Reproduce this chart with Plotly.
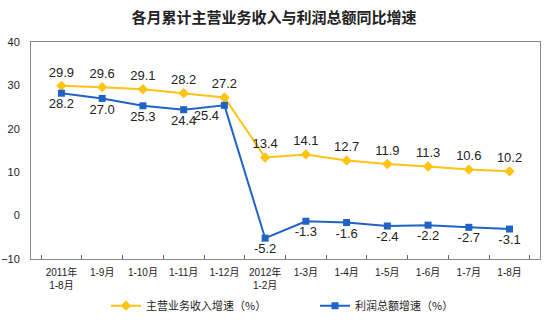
import plotly.graph_objects as go

categories = ["2011年<br>1-8月", "1-9月", "1-10月", "1-11月", "1-12月", "2012年<br>1-2月",
              "1-3月", "1-4月", "1-5月", "1-6月", "1-7月", "1-8月"]
revenue_growth = [29.9, 29.6, 29.1, 28.2, 27.2, 13.4, 14.1, 12.7, 11.9, 11.3, 10.6, 10.2]
profit_growth = [28.2, 27.0, 25.3, 24.4, 25.4, -5.2, -1.3, -1.6, -2.4, -2.2, -2.7, -3.1]
y_ticks = [-10, 0, 10, 20, 30, 40]

YELLOW = "#FFC312"
BLUE = "#1F63C6"
FONT = "Arial, 'Liberation Sans', 'Noto Sans CJK SC', sans-serif"

profit_pos = ["bottom center"] * len(profit_growth)
profit_pos[4] = "bottom left"

fig = go.Figure()
fig.add_trace(go.Scatter(
    x=categories, y=revenue_growth, name="主营业务收入增速（%）",
    mode="lines+markers+text",
    line=dict(color=YELLOW, width=2),
    marker=dict(symbol="diamond", size=8, color=YELLOW),
    text=[f"{v:.1f}" for v in revenue_growth], textposition="top center",
    textfont=dict(size=13, color="#222", family=FONT),
))
fig.add_trace(go.Scatter(
    x=categories, y=profit_growth, name="利润总额增速（%）",
    mode="lines+markers+text",
    line=dict(color=BLUE, width=2),
    marker=dict(symbol="square", size=7, color=BLUE),
    text=[f"{v:.1f}" for v in profit_growth], textposition=profit_pos,
    textfont=dict(size=13, color="#222", family=FONT),
))

fig.update_layout(
    width=548, height=323,
    margin=dict(l=31, r=8, t=42, b=64, autoexpand=False),
    paper_bgcolor="white", plot_bgcolor="white",
    font=dict(family=FONT, color="#222"),
    title=dict(text="<b>各月累计主营业务收入与利润总额同比增速</b>",
               x=0.5, xanchor="center", y=0.945, yanchor="middle",
               font=dict(size=15, family="'Noto Sans CJK SC', sans-serif", color="#222")),
    showlegend=True,
    legend=dict(orientation="h", x=(106 - 31) / 509, xanchor="left", y=-0.215, yanchor="middle",
                font=dict(size=11, family="'Noto Sans CJK SC', sans-serif"),
                itemwidth=30, entrywidthmode="pixels", entrywidth=164),
)
fig.update_xaxes(
    type="category", showgrid=False, showline=True, linecolor="#888", linewidth=1, mirror=True,
    ticks="inside", tickson="boundaries", ticklen=4, tickcolor="#666",
    tickfont=dict(size=10, family=FONT), tickangle=0, automargin=False, ticklabelstandoff=4,
)
fig.update_yaxes(
    range=[-10, 40], tickvals=y_ticks, showgrid=False, zeroline=False,
    showline=True, linecolor="#888", linewidth=1, mirror=True, automargin=False,
    ticks="", tickfont=dict(size=11, family=FONT), ticklabelstandoff=8,
)

fig.write_html("out.html")
